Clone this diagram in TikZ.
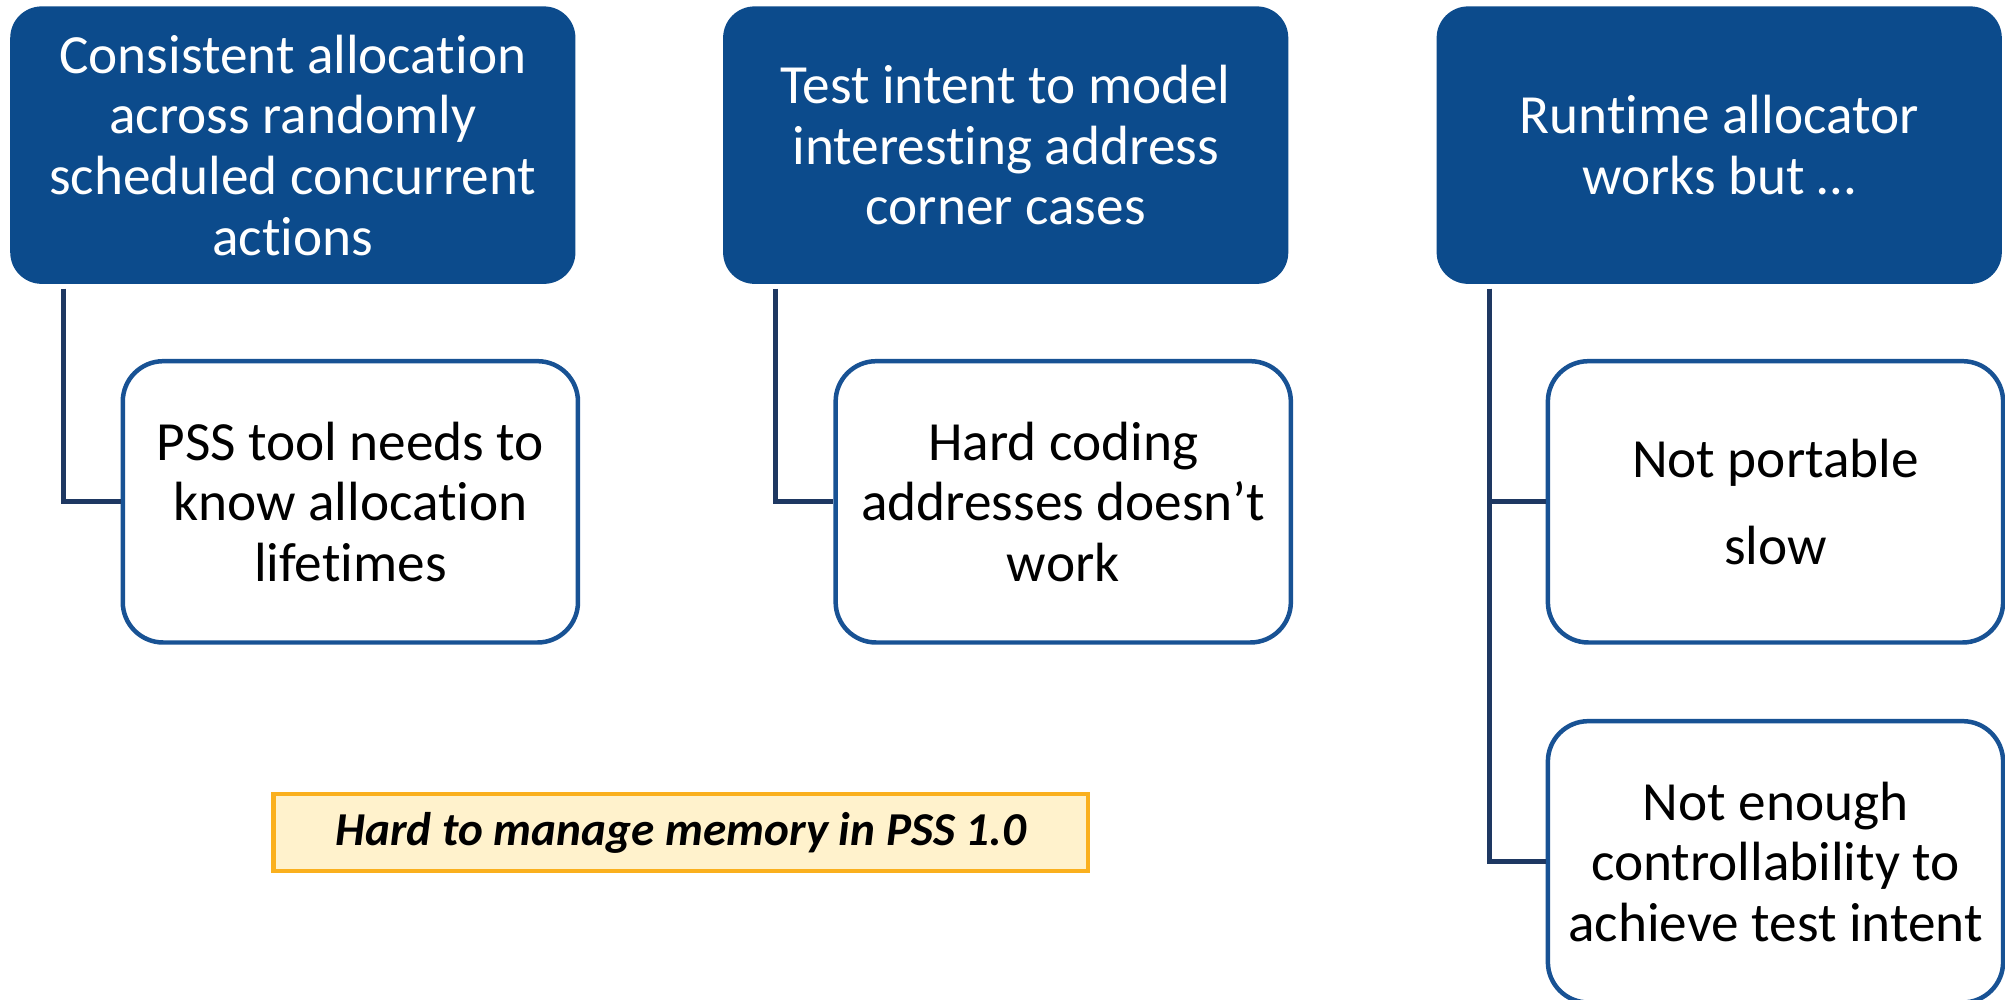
\documentclass[tikz,border=0pt]{standalone}
\usepackage{fontspec}
\setmainfont{Carlito}[Ligatures=NoCommon]
\usepackage{tikz}
\usetikzlibrary{positioning}
\definecolor{headblue}{RGB}{12,75,140}
\definecolor{boxblue}{RGB}{24,82,148}
\definecolor{linknavy}{RGB}{30,56,98}
\definecolor{notefill}{RGB}{255,242,204}
\definecolor{noteedge}{RGB}{250,176,30}

\begin{document}
\begin{tikzpicture}[
			head/.style  = {rectangle, rounded corners=7pt, fill=headblue, text=white, align=center,
				minimum width=4.42cm, minimum height=2.17cm, inner sep=2pt, font=\fontsize{12.3}{13.5}\selectfont},
			leaf/.style  = {rectangle, rounded corners=9pt, draw=boxblue, line width=1pt, fill=white, align=center,
				minimum width=3.56cm, minimum height=2.20cm, inner sep=2pt, font=\fontsize{12.3}{13.5}\selectfont},
			note/.style  = {rectangle, draw=noteedge, line width=1pt, fill=notefill,
				minimum width=6.37cm, minimum height=0.60cm, font=\fontsize{10.5}{12}\selectfont\bfseries\itshape},
			link/.style  = {draw=linknavy, line width=1.1pt}]
			
			\useasboundingbox (0,0) rectangle (15.68,-7.813);
			
			% top row, the three headings
			\node[head] (t1) at (2.29,-1.135) {Consistent allocation\\across randomly\\scheduled concurrent\\actions};
			\node[head] (t2) at (7.865,-1.135) {Test intent to model\\interesting address\\corner cases};
			\node[head] (t3) at (13.445,-1.135) {Runtime allocator\\works but \dots};
			
			% the second level, placed under each heading
			\node[leaf, below=0.58cm of t1.south, xshift=0.45cm] (c1) {PSS tool needs to\\know allocation\\lifetimes};
			\node[leaf, below=0.58cm of t2.south, xshift=0.45cm] (c2) {Hard coding\\addresses doesn’t\\work};
			\node[leaf, below=0.58cm of t3.south, xshift=0.44cm] (c3) {Not portable\\[0.21cm]slow};
			\node[leaf, below=0.58cm of c3] (c4) {Not enough\\controllability to\\achieve test intent};
			
			% the remark at the bottom
			\node[note] (n1) at (5.325,-6.51) {Hard to manage memory in PSS 1.0};
			
			% lines from each heading to its children
			\foreach \p/\c in {t1/c1, t2/c2, t3/c3, t3/c4}
			\draw[link] ([xshift=0.42cm, yshift=-0.03cm]\p.south west) |- (\c.west);
		\end{tikzpicture}
\end{document}
